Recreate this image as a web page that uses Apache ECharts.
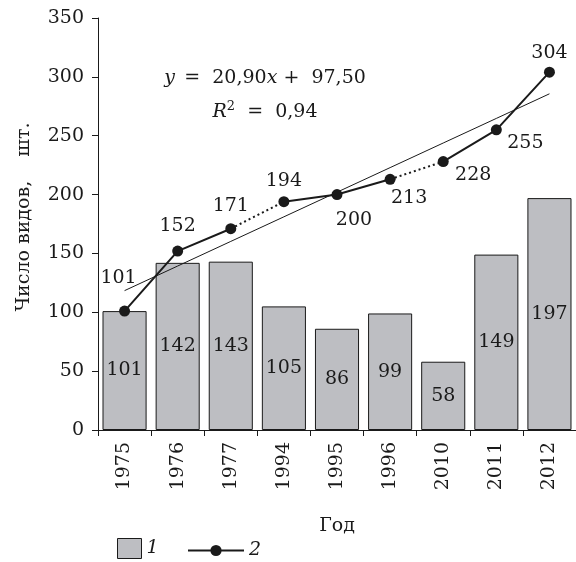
<!DOCTYPE html>
<html>
<head>
<meta charset="utf-8">
<script src="https://cdn.jsdelivr.net/npm/echarts@6/dist/echarts.min.js"></script>
<style>
  html, body { margin: 0; padding: 0; background: #fff; }
  #chart { width: 576px; height: 562px; }
</style>
</head>
<body>
<div id="chart"></div>
<script>
// Survey years (category axis)
const years = ['1975', '1976', '1977', '1994', '1995', '1996', '2010', '2011', '2012'];
// Series 1: number of species recorded in each survey year (bars)
const speciesPerYear = [101, 142, 143, 105, 86, 99, 58, 149, 197];
// Series 2: cumulative number of species (line)
const cumulativeSpecies = [101, 152, 171, 194, 200, 213, 228, 255, 304];
// Linear trend of series 2: y = slope * x + intercept, x = 1..9
const trendSlope = 20.90;
const trendIntercept = 97.50;
const trendR2 = 0.94;
// Index ranges of series 2 drawn solid / dotted
const solidRuns = [[0, 2], [3, 5], [6, 8]];
const dottedRuns = [[2, 3], [5, 6]];

const FONT = 'DejaVu Serif';
const FS = 19;
const INK = '#1a1a1a';

// Label placement for every point of series 2
const pointLabelPlacement = [
  { position: 'top', offset: [-6, -14] },
  { position: 'top', offset: [0, -6] },
  { position: 'top', offset: [0, -4] },
  { position: 'top', offset: [0, -2] },
  { position: 'bottom', offset: [17, 6] },
  { position: 'bottom', offset: [19, 0] },
  { position: 'bottom', offset: [30, -6] },
  { position: 'bottom', offset: [29, -6] },
  { position: 'top', offset: [0, 0] }
];

function runData(run, withLabels) {
  return cumulativeSpecies.map((v, i) => {
    if (i < run[0] || i > run[1]) return null;
    if (!withLabels) return v;
    return { value: v, label: pointLabelPlacement[i] };
  });
}

const fmt = n => n.toFixed(2).replace('.', ',');
const trendValues = years.map((_, i) => +(trendSlope * (i + 1) + trendIntercept).toFixed(2));

const series = [
  {
    name: '1',
    type: 'bar',
    data: speciesPerYear,
    barCategoryGap: '17%',
    itemStyle: { color: '#bdbec2', borderColor: INK, borderWidth: 1 },
    label: {
      show: true, position: 'inside',
      color: INK, fontFamily: FONT, fontSize: FS
    },
    z: 1
  },
  {
    name: 'trend',
    type: 'line',
    data: trendValues,
    showSymbol: false,
    symbol: 'none',
    lineStyle: { color: INK, width: 1 },
    silent: true,
    z: 2
  }
];

// solid runs first, so the first one drives the legend icon of series 2
solidRuns.forEach(run => {
  series.push({
    name: '2',
    type: 'line',
    data: runData(run, true),
    symbol: 'circle',
    symbolSize: 11,
    showAllSymbol: true,
    itemStyle: { color: INK },
    lineStyle: { color: INK, width: 2 },
    label: {
      show: true, color: INK, fontFamily: FONT, fontSize: FS, distance: 4
    },
    z: 4
  });
});

dottedRuns.forEach(run => {
  series.push({
    name: '2',
    type: 'line',
    data: runData(run, false),
    symbol: 'none',
    lineStyle: { color: INK, width: 2, type: [2, 3] },
    z: 3
  });
});

const legendText = { fontFamily: FONT, fontSize: FS, fontStyle: 'italic', color: INK };
const eqRich = {
  i: { fontStyle: 'italic', fontFamily: FONT, fontSize: FS, fill: INK, lineHeight: 24 },
  n: { fontFamily: FONT, fontSize: FS, fill: INK, lineHeight: 24 },
  sup: { fontFamily: FONT, fontSize: 13, fill: INK, verticalAlign: 'top', lineHeight: 14 }
};

const chart = echarts.init(document.getElementById('chart'), null, { renderer: 'canvas' });
chart.setOption({
  animation: false,
  backgroundColor: '#fff',
  textStyle: { fontFamily: FONT, color: INK },
  grid: { left: 98, top: 18, width: 479, bottom: 132, containLabel: false },
  xAxis: {
    type: 'category',
    data: years,
    boundaryGap: true,
    name: 'Год',
    nameLocation: 'middle',
    nameGap: 87,
    nameTextStyle: { fontFamily: FONT, fontSize: FS, color: INK },
    axisLine: { lineStyle: { color: INK, width: 1 } },
    axisTick: { show: true, length: 6, inside: false, lineStyle: { color: INK } },
    axisLabel: { rotate: 90, margin: 12, fontFamily: FONT, fontSize: FS, color: INK }
  },
  yAxis: {
    type: 'value',
    min: 0, max: 350, interval: 50,
    name: 'Число видов,    шт.',
    nameLocation: 'middle',
    nameGap: 64,
    nameTextStyle: { fontFamily: FONT, fontSize: FS, color: INK, padding: [0, 0, 0, 14] },
    axisLine: { show: true, lineStyle: { color: INK, width: 1 } },
    axisTick: { show: true, length: 6, lineStyle: { color: INK } },
    axisLabel: { margin: 14, fontFamily: FONT, fontSize: FS, color: INK },
    splitLine: { show: false }
  },
  legend: [
    {
      data: [{ name: '1', icon: 'rect' }], left: 117, top: 538, padding: 0,
      itemWidth: 24, itemHeight: 20, itemGap: 8,
      itemStyle: { borderColor: INK, borderWidth: 1 },
      textStyle: legendText, selectedMode: false
    },
    {
      data: ['2'], left: 187, top: 541, padding: 0,
      itemWidth: 56, itemHeight: 14,
      textStyle: legendText, selectedMode: false
    }
  ],
  graphic: [
    {
      type: 'text', x: 265, y: 78, silent: true,
      style: {
        text: '{i|y} {n| =  ' + fmt(trendSlope) + '}{i|x}{n| +  ' + fmt(trendIntercept) + '}',
        align: 'center', verticalAlign: 'middle',
        rich: eqRich
      }
    },
    {
      type: 'text', x: 265, y: 112, silent: true,
      style: {
        text: '{i|R}{sup|2}{n|  =  ' + fmt(trendR2) + '}',
        align: 'center', verticalAlign: 'middle',
        rich: eqRich
      }
    }
  ],
  series: series
});
</script>
</body>
</html>
